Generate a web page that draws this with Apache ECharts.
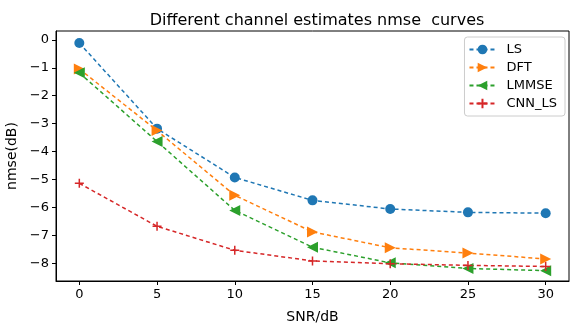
<!DOCTYPE html>
<html>
<head>
<meta charset="utf-8">
<script src="https://cdn.jsdelivr.net/npm/echarts@6/dist/echarts.min.js"></script>
<style>
  html, body { margin: 0; padding: 0; background: #fff; }
  #chart { width: 578px; height: 329px; }
</style>
</head>
<body>
<div id="chart"></div>
<script>
// SNR 取值与各估计方法的 nmse（dB）
const snr = [0, 5, 10, 15, 20, 25, 30];
const lsValues = [-0.11, -3.18, -4.93, -5.75, -6.06, -6.18, -6.21];
const dftValues = [-1.04, -3.25, -5.57, -6.88, -7.45, -7.64, -7.85];
const lmmseValues = [-1.18, -3.64, -6.11, -7.43, -7.99, -8.19, -8.27];
const cnnLsValues = [-5.14, -6.68, -7.54, -7.92, -8.02, -8.08, -8.12];
const xTicks = [0, 5, 10, 15, 20, 25, 30];
const yTicks = [0, -1, -2, -3, -4, -5, -6, -7, -8];

const FONT = 'DejaVu Sans';
const plusPath = 'path://M0,5L10,5M5,0L5,10';

function pairs(values) {
  return snr.map((x, i) => [x, values[i]]);
}

function fmt(v) {
  return v < 0 ? '\u2212' + Math.abs(v) : String(v);
}

function makeSeries(name, values, color, symbol, size, rotate) {
  const s = {
    name: name,
    type: 'line',
    data: pairs(values),
    symbol: symbol,
    symbolSize: size,
    symbolRotate: rotate || 0,
    showAllSymbol: true,
    lineStyle: { color: color, width: 1.5, type: [4, 3] },
    itemStyle: { color: color },
    emphasis: { disabled: true }
  };
  if (symbol === plusPath) {
    s.itemStyle = { color: 'transparent', borderColor: color, borderWidth: 1.5 };
  }
  return s;
}

const chart = echarts.init(document.getElementById('chart'));

const option = {
  backgroundColor: '#fff',
  animation: false,
  textStyle: { fontFamily: FONT },
  title: {
    text: 'Different channel estimates nmse  curves',
    left: 312,
    top: 8,
    textAlign: 'center',
    textStyle: { fontFamily: FONT, fontSize: 16, fontWeight: 'normal', color: '#000' }
  },
  grid: {
    left: 56, right: 9, top: 31, bottom: 48,
    outerBoundsMode: 'none',
    show: true, borderColor: '#000', borderWidth: 1
  },
  legend: {
    orient: 'vertical',
    right: 13,
    top: 37,
    itemWidth: 26,
    itemHeight: 12,
    itemGap: 5,
    padding: [6, 8, 6, 4],
    borderColor: '#ccc',
    borderWidth: 1,
    borderRadius: 3,
    textStyle: { fontFamily: FONT, fontSize: 13, color: '#000', padding: [0, 0, 0, 6] },
    data: ['LS', 'DFT', 'LMMSE', 'CNN_LS']
  },
  xAxis: {
    type: 'value',
    min: -1.5,
    max: 31.5,
    name: 'SNR/dB',
    nameLocation: 'middle',
    nameGap: 29,
    nameTextStyle: { fontFamily: FONT, fontSize: 14, color: '#000' },
    axisLine: { onZero: false, lineStyle: { color: '#000' } },
    axisTick: { customValues: xTicks, length: 4, lineStyle: { color: '#000' } },
    axisLabel: { customValues: xTicks, fontFamily: FONT, fontSize: 13, color: '#000', margin: 7 },
    splitLine: { show: false }
  },
  yAxis: {
    type: 'value',
    min: -8.64,
    max: 0.32,
    name: 'nmse(dB)',
    nameLocation: 'middle',
    nameGap: 33,
    nameTextStyle: { fontFamily: FONT, fontSize: 14, color: '#000' },
    axisLine: { show: true, onZero: false, lineStyle: { color: '#000' } },
    axisTick: { show: true, customValues: yTicks, length: 4, lineStyle: { color: '#000' } },
    axisLabel: { customValues: yTicks, fontFamily: FONT, fontSize: 13, color: '#000', margin: 7, formatter: fmt },
    splitLine: { show: false }
  },
  series: [
    makeSeries('LS', lsValues, '#1f77b4', 'circle', 10),
    makeSeries('DFT', dftValues, '#ff7f0e', 'triangle', 11, -90),
    makeSeries('LMMSE', lmmseValues, '#2ca02c', 'triangle', 11, 90),
    makeSeries('CNN_LS', cnnLsValues, '#d62728', plusPath, 9)
  ]
};

chart.setOption(option);
</script>
</body>
</html>
